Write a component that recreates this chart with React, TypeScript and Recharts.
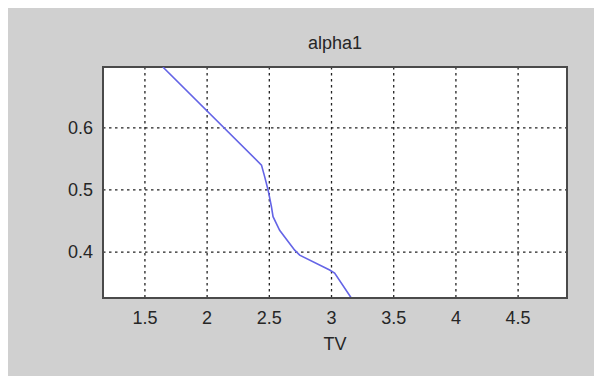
import React from "react";
import { LineChart, Line, XAxis, YAxis, CartesianGrid, ReferenceArea } from "recharts";

const tvValues = [1.644, 2.437, 2.463, 2.49, 2.517, 2.53, 2.583, 2.704, 2.744, 2.985, 3.025, 3.159];
const alphaValues = [0.698, 0.54, 0.521, 0.5, 0.473, 0.457, 0.435, 0.403, 0.395, 0.371, 0.366, 0.326];
const xTicks = [1.5, 2, 2.5, 3, 3.5, 4, 4.5];
const yTicks = [0.4, 0.5, 0.6];
const xDomain = [1.163, 4.893];
const yDomain = [0.326, 0.698];

const data = tvValues.map((tv, i) => ({ tv, alpha: alphaValues[i] }));

const W = 594;
const H = 368;
const font = "'Liberation Sans', Arial, sans-serif";
const textColor = "#262626";

export default function App() {
  return (
    <div style={{ position: "relative", width: W, height: H, background: "#d0d0d0", fontFamily: font }}>
      <div
        style={{
          position: "absolute",
          left: 95,
          width: 464,
          top: 25,
          textAlign: "center",
          fontSize: 18,
          color: textColor,
          lineHeight: "20px",
        }}
      >
        alpha1
      </div>
      <div
        style={{
          position: "absolute",
          left: 95,
          width: 464,
          top: 326,
          textAlign: "center",
          fontSize: 18,
          color: textColor,
          lineHeight: "20px",
        }}
      >
        TV
      </div>
      <div style={{ position: "absolute", left: 0, top: 0 }}>
        <LineChart width={W} height={H} data={data} margin={{ top: 59, right: 35, bottom: 48, left: 35 }}>
          <CartesianGrid stroke="#222" strokeDasharray="2.5 3.5" strokeWidth={1.3} fill="#ffffff" />
          <XAxis
            dataKey="tv"
            type="number"
            domain={xDomain}
            ticks={xTicks}
            allowDataOverflow
            height={30}
            tickSize={0}
            tickMargin={13}
            tickLine={false}
            axisLine={{ stroke: "#4a4a4a", strokeWidth: 2 }}
            tick={{ fill: textColor, fontSize: 18, fontFamily: font }}
            tickFormatter={(v) => String(v)}
          />
          <YAxis
            dataKey="alpha"
            type="number"
            domain={yDomain}
            ticks={yTicks}
            allowDataOverflow
            width={60}
            tickSize={0}
            tickMargin={10}
            tickLine={false}
            axisLine={{ stroke: "#4a4a4a", strokeWidth: 2 }}
            tick={{ fill: textColor, fontSize: 18, fontFamily: font }}
            tickFormatter={(v) => String(v)}
          />
          <ReferenceArea
            x1={xDomain[0]}
            x2={xDomain[1]}
            y1={yDomain[0]}
            y2={yDomain[1]}
            fill="none"
            stroke="#4a4a4a"
            strokeWidth={2}
            ifOverflow="visible"
          />
          <Line
            type="linear"
            dataKey="alpha"
            stroke="#6464e6"
            strokeWidth={1.6}
            dot={false}
            isAnimationActive={false}
          />
        </LineChart>
      </div>
    </div>
  );
}
